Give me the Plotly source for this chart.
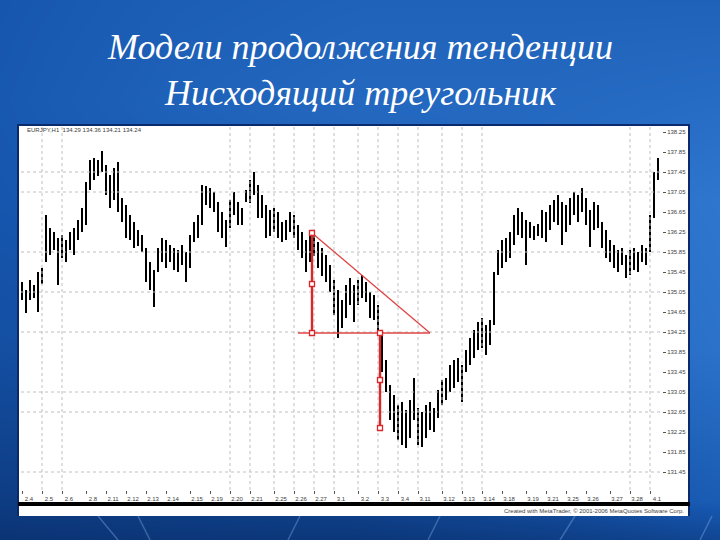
import numpy as np
import plotly.graph_objects as go

# ---------------- data ----------------
highs = [135.25, 135.09, 135.29, 135.19, 135.45, 135.53, 136.59, 136.33, 136.25, 136.13,
         136.19, 136.09, 136.25, 136.33, 136.49, 136.73, 137.25, 137.69, 137.73, 137.69,
         137.87, 137.59, 137.39, 137.53, 137.65, 136.93, 136.79, 136.59, 136.45, 136.29,
         136.19, 135.93, 135.65, 135.49, 135.93, 136.13, 136.09, 135.99, 135.93, 135.89,
         135.99, 135.85, 136.19, 136.45, 136.59, 137.19, 137.17, 137.13, 137.05, 136.85,
         136.65, 136.49, 136.89, 137.05, 136.85, 136.73, 137.09, 137.29, 137.45, 137.19,
         136.99, 136.79, 136.69, 136.73, 136.65, 136.45, 136.49, 136.65, 136.59, 136.39,
         136.25, 136.09, 136.19, 136.17, 136.05, 135.93, 135.79, 135.59, 135.29, 135.09,
         134.89, 135.19, 135.33, 135.19, 135.29, 135.39, 135.25, 135.05, 134.99, 134.79,
         134.29, 133.69, 133.19, 132.99, 132.79, 132.85, 132.69, 132.89, 133.33, 132.73,
         132.65, 132.79, 132.85, 132.73, 133.09, 133.29, 133.33, 133.59, 133.69, 133.73,
         133.59, 133.89, 134.13, 134.29, 134.45, 134.53, 134.39, 134.49, 135.45, 135.89,
         136.09, 136.13, 136.25, 136.59, 136.73, 136.65, 136.49, 136.45, 136.37, 136.41,
         136.69, 136.65, 136.79, 136.89, 136.99, 136.85, 136.79, 136.93, 137.05, 136.99,
         137.13, 136.93, 136.69, 136.85, 136.79, 136.45, 136.29, 136.09, 135.99, 135.89,
         135.93, 135.79, 135.89, 135.93, 135.85, 135.99, 135.93, 136.59, 137.45, 137.73]
lows = [134.89, 134.63, 134.89, 134.93, 134.65, 135.21, 135.65, 135.79, 135.89, 135.19,
        135.73, 135.65, 135.89, 135.79, 136.09, 136.25, 136.39, 137.09, 137.29, 137.37,
        137.45, 136.99, 136.73, 136.89, 136.65, 136.45, 136.13, 136.09, 135.93, 135.97,
        135.85, 135.25, 135.09, 134.75, 135.45, 135.65, 135.53, 135.65, 135.49, 135.45,
        135.59, 135.25, 135.53, 136.05, 136.13, 136.39, 136.79, 136.73, 136.65, 136.25,
        136.13, 135.95, 136.33, 136.59, 136.39, 136.39, 136.85, 136.83, 136.99, 136.53,
        136.53, 136.13, 136.17, 136.25, 136.13, 136.05, 136.09, 136.25, 136.13, 135.89,
        135.73, 135.45, 135.65, 135.77, 135.53, 135.37, 135.25, 135.05, 134.59, 134.13,
        134.33, 134.53, 134.79, 134.45, 134.79, 134.93, 134.85, 134.53, 134.49, 134.29,
        133.45, 133.05, 132.49, 132.25, 132.09, 131.99, 131.93, 132.13, 132.49, 131.99,
        131.95, 132.13, 132.29, 132.25, 132.53, 132.79, 132.89, 133.05, 133.13, 133.25,
        132.85, 133.45, 133.59, 133.73, 133.89, 133.93, 133.79, 133.99, 134.39, 135.39,
        135.53, 135.65, 135.73, 135.99, 136.19, 136.13, 135.59, 136.13, 136.09, 136.17,
        136.13, 136.05, 136.29, 136.45, 136.39, 135.99, 136.25, 136.39, 136.59, 136.45,
        136.65, 136.39, 135.95, 136.29, 136.33, 135.93, 135.73, 135.65, 135.53, 135.45,
        135.59, 135.33, 135.39, 135.49, 135.45, 135.65, 135.59, 135.85, 136.53, 137.29]
bar_index = list(range(len(highs)))

date_tick_index = [0, 5, 10, 16, 21, 26, 31, 36, 42, 47, 52, 57, 63, 68, 73, 78, 84, 89,
                   94, 99, 105, 110, 115, 120, 126, 131, 136, 141, 147, 152, 157]
date_labels = ["2.4", "2.5", "2.6", "2.8", "2.11", "2.12", "2.13", "2.14", "2.15", "2.19",
               "2.20", "2.21", "2.25", "2.26", "2.27", "3.1", "3.2", "3.3", "3.4", "3.11",
               "3.12", "3.13", "3.14", "3.18", "3.19", "3.21", "3.25", "3.26", "3.27", "3.28", "4.1"]
price_ticks = [131.05, 131.45, 131.85, 132.25, 132.65, 133.05, 133.45, 133.85, 134.25, 134.65,
               135.05, 135.45, 135.85, 136.25, 136.65, 137.05, 137.45, 137.85, 138.25]
grid_prices = [131.45, 132.65, 133.05, 134.25, 135.05, 135.85, 137.05, 137.45]
grid_dates = [5, 10, 52, 57, 63, 68, 73, 78, 84, 89, 94, 99, 105, 110, 115, 152, 157]

# descending triangle drawn on the chart
resist_x = [72.5, 102]
resist_y = [136.23, 134.23]
support_x = [69, 102]
support_y = [134.23, 134.23]
height1_x = [72.5, 72.5, 72.5]
height1_y = [136.23, 135.21, 134.23]
height2_x = [89.5, 89.5, 89.5]
height2_y = [134.23, 133.29, 132.33]

header_text = "EURJPY,H1  134.29 134.36 134.21 134.24"
status_text = "Created with MetaTrader, \u00a9 2001-2006 MetaQuotes Software Corp."
title_lines = ["Модели продолжения тенденции", "Нисходящий треугольник"]

X_RANGE = [-0.25, 160]
Y_RANGE = [131.09, 138.35]

# ---------------- figure ----------------
fig = go.Figure()

# slide background (pixel coordinate canvas on x/y)
bg_x = [0, 180, 360, 540, 720]
bg_y = [0, 100, 200, 350, 500, 540]
bg_z = [[0.50, 0.58, 0.62, 0.62, 0.62],
        [0.52, 0.62, 0.68, 0.68, 0.72],
        [0.50, 0.56, 0.62, 0.72, 0.82],
        [0.42, 0.46, 0.52, 0.66, 0.78],
        [0.22, 0.26, 0.30, 0.40, 0.56],
        [0.12, 0.15, 0.16, 0.22, 0.32]]
fig.add_trace(go.Heatmap(x=bg_x, y=bg_y, z=bg_z, zsmooth="best", showscale=False,
                         colorscale=[[0, "#072861"], [0.5, "#1656ae"], [1, "#3c88e0"]],
                         zmin=0, zmax=1, hoverinfo="skip", xaxis="x", yaxis="y"))
# streaks at the bottom
for sx in [(98, 118), (138, 150), (300, 288), (440, 428), (575, 560), (712, 700)]:
    fig.add_trace(go.Scatter(x=[sx[0], sx[1]], y=[516, 540], mode="lines",
                             line=dict(color="rgba(150,190,240,0.35)", width=1.5),
                             hoverinfo="skip", showlegend=False, xaxis="x", yaxis="y"))
# white screenshot panel
fig.add_trace(go.Scatter(x=[18, 690, 690, 18, 18], y=[124, 124, 516, 516, 124], mode="lines",
                         fill="toself", fillcolor="white", line=dict(width=0),
                         hoverinfo="skip", showlegend=False, xaxis="x", yaxis="y"))
# window frame lines and black separator bar
fig.add_trace(go.Scatter(x=[18, 18, None, 18, 690, None, 689, 689],
                         y=[124, 516, None, 125, 125, None, 124, 516], mode="lines",
                         line=dict(color="#0b2a6a", width=2),
                         hoverinfo="skip", showlegend=False, xaxis="x", yaxis="y"))
fig.add_trace(go.Scatter(x=[18, 690, 690, 18, 18], y=[502, 502, 506, 506, 502], mode="lines",
                         fill="toself", fillcolor="black", line=dict(width=0),
                         hoverinfo="skip", showlegend=False, xaxis="x", yaxis="y"))

# dotted grid of the chart
gx, gy = [], []
for g in grid_dates:
    gx += [g, g, None]
    gy += [Y_RANGE[0], Y_RANGE[1], None]
for p in grid_prices:
    gx += [X_RANGE[0], X_RANGE[1], None]
    gy += [p, p, None]
fig.add_trace(go.Scatter(x=gx, y=gy, mode="lines",
                         line=dict(color="#c0c0c0", width=1, dash="dot"),
                         hoverinfo="skip", showlegend=False, xaxis="x2", yaxis="y2"))

# price bars (high-low)
h = np.array(highs)
l = np.array(lows)
fig.add_trace(go.Bar(x=bar_index, y=h - l, base=l, width=0.25,
                     marker=dict(color="black", line=dict(width=0)),
                     showlegend=False, xaxis="x2", yaxis="y2"))

# triangle annotation
red = "#d8282a"
fig.add_trace(go.Scatter(x=resist_x, y=resist_y, mode="lines",
                         line=dict(color="#e04444", width=1.3),
                         showlegend=False, xaxis="x2", yaxis="y2"))
fig.add_trace(go.Scatter(x=support_x, y=support_y, mode="lines",
                         line=dict(color="#e04444", width=1.3),
                         showlegend=False, xaxis="x2", yaxis="y2"))
for hx, hy in [(height1_x, height1_y), (height2_x, height2_y)]:
    fig.add_trace(go.Scatter(x=hx, y=hy, mode="lines+markers",
                             line=dict(color=red, width=2.4),
                             marker=dict(symbol="square", size=5, color="white",
                                         line=dict(color=red, width=1.3)),
                             showlegend=False, xaxis="x2", yaxis="y2"))

small_font = dict(family="Liberation Sans, Arial", size=6, color="#404040")

fig.update_layout(
    width=720, height=540,
    margin=dict(l=0, r=0, t=0, b=0),
    paper_bgcolor="#1656ae",
    plot_bgcolor="rgba(0,0,0,0)",
    showlegend=False,
    xaxis=dict(domain=[0, 1], range=[0, 720], visible=False, fixedrange=True),
    yaxis=dict(domain=[0, 1], range=[540, 0], visible=False, fixedrange=True),
    xaxis2=dict(domain=[21 / 720, 662 / 720], range=X_RANGE, anchor="y2",
                showgrid=False, zeroline=False, showline=False,
                tickmode="array", tickvals=date_tick_index, ticktext=date_labels,
                ticks="outside", ticklen=3, tickcolor="#555", tickwidth=1,
                ticklabelshift=7, tickfont=small_font, fixedrange=True),
    yaxis2=dict(domain=[50 / 540, 413 / 540], range=Y_RANGE, anchor="x2", side="right",
                showgrid=False, zeroline=False, showline=False,
                tickmode="array", tickvals=price_ticks,
                ticktext=[f"{v:.2f}" for v in price_ticks],
                ticks="outside", ticklen=3, tickcolor="#555", tickwidth=1,
                tickfont=small_font, fixedrange=True),
    bargap=0,
    hovermode=False,
)

fig.add_annotation(x=25 / 720, y=1 - 130 / 540, xref="paper", yref="paper",
                   text=header_text, showarrow=False, xanchor="left", yanchor="middle",
                   font=small_font)
fig.add_annotation(x=686 / 720, y=1 - 511 / 540, xref="paper", yref="paper",
                   text=status_text, showarrow=False, xanchor="right", yanchor="middle",
                   font=small_font)
for i, line in enumerate(title_lines):
    fig.add_annotation(x=0.5, y=1 - (47 + 46 * i) / 540, xref="paper", yref="paper",
                       text=line, showarrow=False, xanchor="center", yanchor="middle",
                       font=dict(family="Liberation Serif, Times New Roman", size=36,
                                 color="white", style="italic"))

fig.write_html("out.html", config={"displayModeBar": False},
               post_script="document.body.style.margin='0';document.body.style.overflow='hidden';")
